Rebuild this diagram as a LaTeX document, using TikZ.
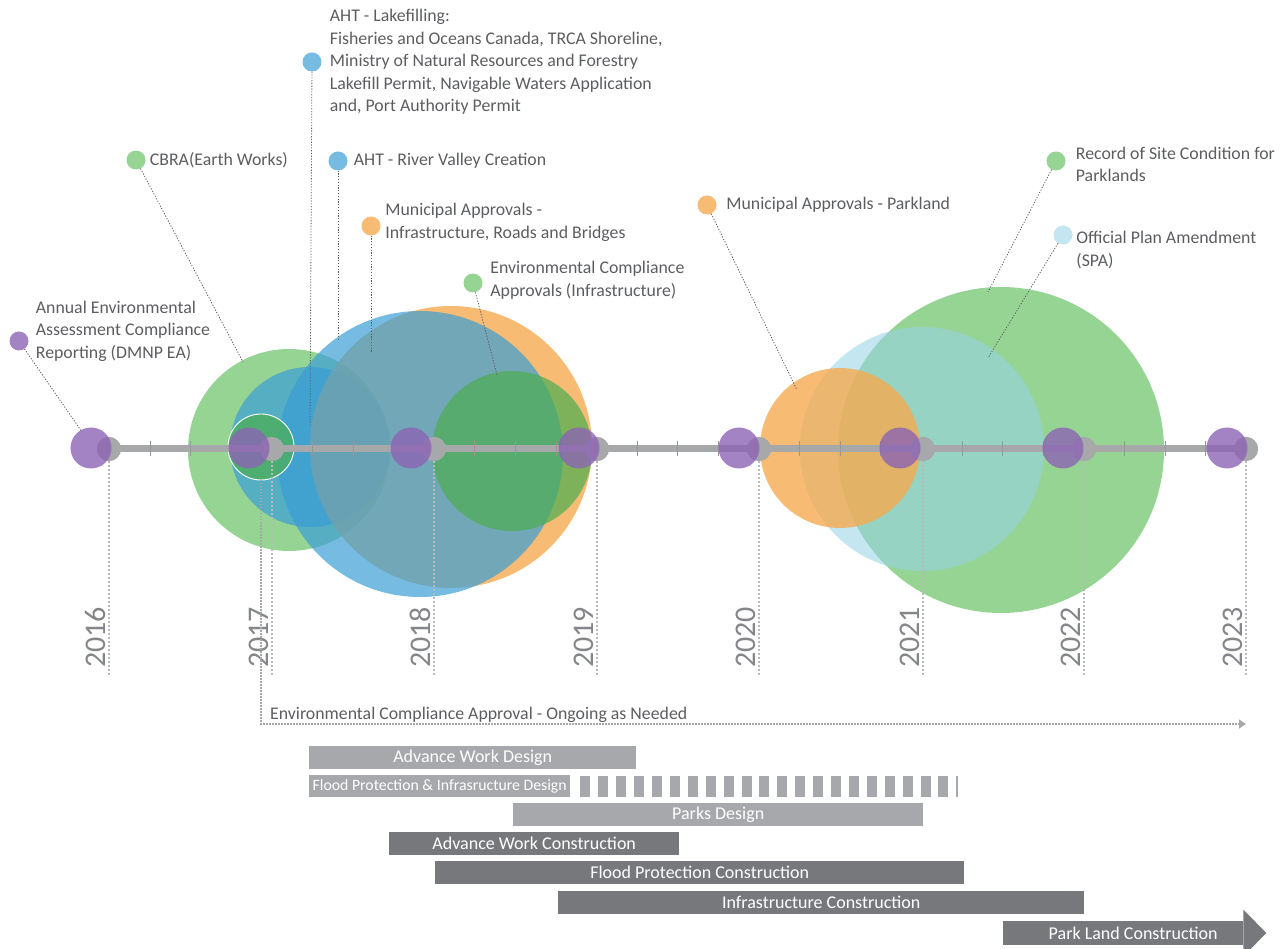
\documentclass[tikz,border=0pt]{standalone}
\usepackage{fontspec}
\setmainfont{Carlito}
\usetikzlibrary{arrows.meta, positioning}

\definecolor{inkgray}{RGB}{92,93,96}
\definecolor{axisgray}{RGB}{167,168,170}
\definecolor{tickgray}{RGB}{150,151,153}
\definecolor{dotline}{RGB}{185,186,188}
\definecolor{designgray}{RGB}{167,168,171}
\definecolor{buildgray}{RGB}{119,120,124}
\definecolor{softgreen}{RGB}{150,212,148}
\definecolor{deepgreen}{RGB}{76,175,80}
\definecolor{skyblue}{RGB}{58,158,213}
\definecolor{paleblue}{RGB}{150,211,229}
\definecolor{amber}{RGB}{245,170,80}
\definecolor{plum}{RGB}{140,100,180}

\begin{document}
\begin{tikzpicture}[
    x=1pt, y=-1pt,
    bubble/.style={
        circle,
        inner sep=0pt,
        outer sep=0pt,
        minimum size=#1
    },
    keydot/.style={
        circle,
        inner sep=0pt,
        minimum size=19pt
    },
    note/.style={
        inner sep=0pt,
        align=left,
        text=inkgray,
        font=\fontsize{17.8}{22.5}\selectfont
    },
    leader/.style={
        draw=inkgray,
        line width=0.8pt,
        dash pattern=on 1.2pt off 1.6pt
    },
    yearline/.style={
        draw=dotline,
        line width=2pt,
        dash pattern=on 2pt off 2pt
    },
    yeardot/.style={
        circle,
        fill=axisgray,
        inner sep=0pt,
        minimum size=24pt
    },
    phase/.style={
        circle,
        fill=plum,
        fill opacity=0.8,
        inner sep=0pt,
        minimum size=41pt
    },
    yeartext/.style={
        rotate=90,
        anchor=south west,
        inner sep=0pt,
        text=buildgray!90,
        font=\fontsize{30}{30}\selectfont
    },
    task/.style={
        rectangle,
        inner sep=0pt,
        anchor=west,
        minimum height=23pt,
        text=white,
        font=\fontsize{18}{20}\selectfont
    },
    ongoing/.style={
        draw=axisgray,
        line width=1.2pt,
        dash pattern=on 1.5pt off 1.5pt
    }
]

\useasboundingbox (0,0) rectangle (1286,949);

% Approval bubbles, 2016-2019
\node[bubble=202pt, fill=softgreen] (cbra) at (289,450) {};
\node[bubble=160pt, fill=skyblue, fill opacity=0.7] (lakefill) at (310,447) {};
\node[bubble=282pt, fill=amber, fill opacity=0.8] (muniroads) at (451,447) {};
\node[bubble=286pt, fill=skyblue, fill opacity=0.7] (rivervalley) at (420,454) {};
\node[bubble=160pt, fill=deepgreen, fill opacity=0.7] (ecainfra) at (512,451) {};
\node[bubble=66pt, fill=deepgreen, fill opacity=0.7, draw=white, line width=0.9pt] (ring2017) at (261,447) {};

% Approval bubbles, 2020-2022
\node[bubble=326pt, fill=softgreen] (siterecord) at (1001,450) {};
\node[bubble=244pt, fill=paleblue, fill opacity=0.57] (planamend) at (922,449) {};
\node[bubble=160pt, fill=amber, fill opacity=0.8] (parkland) at (840,448) {};

% Year markers
\node[yeardot] (y2016) at (109,449) {};
\node[yeardot] (y2017) at (272,449) {};
\node[yeardot] (y2018) at (434,449) {};
\node[yeardot] (y2019) at (597,449) {};
\node[yeardot] (y2020) at (759,449) {};
\node[yeardot] (y2021) at (923,449) {};
\node[yeardot] (y2022) at (1084,449) {};
\node[yeardot] (y2023) at (1246,449) {};

% Time axis with quarter ticks
\draw[axisgray, line width=7pt] (y2016.center) -- (y2023.center);
\draw[tickgray, line width=15pt, dash pattern=on 1pt off 39.6pt] (y2016.center) -- (y2023.center);
\node[yeardot] at (y2016) {};
\node[yeardot] at (y2017) {};
\node[yeardot] at (y2018) {};
\node[yeardot] at (y2019) {};
\node[yeardot] at (y2020) {};
\node[yeardot] at (y2021) {};
\node[yeardot] at (y2022) {};
\node[yeardot] at (y2023) {};

% Reporting dots
\node[phase] (p2016) at (91,448) {};
\node[phase] (p2017) at (249,448) {};
\node[phase] (p2018) at (411,448) {};
\node[phase] (p2019) at (579,448) {};
\node[phase] (p2020) at (739,448) {};
\node[phase] (p2021) at (900,448) {};
\node[phase] (p2022) at (1063,448) {};
\node[phase] (p2023) at (1227,448) {};

% Year lines and labels
\coordinate (yrfoot) at (0,676);
\draw[yearline] (y2016) -- (y2016 |- yrfoot);
\draw[yearline] (y2017) -- (y2017 |- yrfoot);
\draw[yearline] (y2018) -- (y2018 |- yrfoot);
\draw[yearline] (y2019) -- (y2019 |- yrfoot);
\draw[yearline] (y2020) -- (y2020 |- yrfoot);
\draw[yearline] (y2021) -- (y2021 |- yrfoot);
\draw[yearline] (y2022) -- (y2022 |- yrfoot);
\draw[yearline] (y2023) -- (y2023 |- yrfoot);
\node[yeartext] (t2016) at (106,668) {2016};
\node[yeartext] (t2017) at (269,668) {2017};
\node[yeartext] (t2018) at (431,668) {2018};
\node[yeartext] (t2019) at (594,668) {2019};
\node[yeartext] (t2020) at (756,668) {2020};
\node[yeartext] (t2021) at (920,668) {2021};
\node[yeartext] (t2022) at (1081,668) {2022};
\node[yeartext] (t2023) at (1243,668) {2023};

% Callout dots
\node[keydot, fill=plum, fill opacity=0.8] (dAnnual) at (19,341) {};
\node[keydot, fill=softgreen] (dCbra) at (136,160) {};
\node[keydot, fill=skyblue, fill opacity=0.7] (dLakefill) at (312,62) {};
\node[keydot, fill=skyblue, fill opacity=0.7] (dRiver) at (338,161) {};
\node[keydot, fill=amber, fill opacity=0.8] (dRoads) at (371,226) {};
\node[keydot, fill=softgreen] (dEca) at (473,283) {};
\node[keydot, fill=amber, fill opacity=0.8] (dParkland) at (707,205) {};
\node[keydot, fill=softgreen] (dRecord) at (1056,161) {};
\node[keydot, fill=paleblue, fill opacity=0.57] (dPlan) at (1063,235) {};

% Callout texts
\node[note, right=7pt of dAnnual, yshift=10pt] (nAnnual) {Annual Environmental\\Assessment Compliance\\Reporting (DMNP EA)};
\node[note, right=4pt of dCbra] (nCbra) {CBRA(Earth Works)};
\node[note, right=8pt of dLakefill] (nLakefill) {AHT - Lakefilling:\\Fisheries and Oceans Canada, TRCA Shoreline,\\Ministry of Natural Resources and Forestry\\Lakefill Permit, Navigable Waters Application\\and, Port Authority Permit};
\node[note, right=6pt of dRiver] (nRiver) {AHT - River Valley Creation};
\node[note, right=4.5pt of dRoads, yshift=3.5pt] (nRoads) {Municipal Approvals -\\Infrastructure, Roads and Bridges};
\node[note, right=7.5pt of dEca, yshift=2.5pt] (nEca) {Environmental Compliance\\Approvals (Infrastructure)};
\node[note, right=9.5pt of dParkland] (nParkland) {Municipal Approvals - Parkland};
\node[note, right=10pt of dRecord, yshift=-3.5pt] (nRecord) {Record of Site Condition for\\Parklands};
\node[note, right=3.5pt of dPlan, yshift=-15pt] (nPlan) {Official Plan Amendment\\(SPA)};

% Leader lines into the bubbles
\coordinate (eAnnual) at (82,432);
\coordinate (eCbra) at (243,362);
\coordinate (eLakefill) at (310,425);
\coordinate (eRiver) at (338,340);
\coordinate (eRoads) at (371,352);
\coordinate (eEca) at (497,375);
\coordinate (eParkland) at (797,390);
\coordinate (eRecord) at (988,292);
\coordinate (ePlan) at (988,358);
\draw[leader] (dAnnual) -- (eAnnual);
\draw[leader] (dCbra) -- (eCbra);
\draw[leader] (dLakefill) -- (eLakefill);
\draw[leader] (dRiver) -- (eRiver);
\draw[leader] (dRoads) -- (eRoads);
\draw[leader] (dEca) -- (eEca);
\draw[leader] (dParkland) -- (eParkland);
\draw[leader] (dRecord) -- (eRecord);
\draw[leader] (dPlan) -- (ePlan);

% Ongoing approvals
\coordinate (ongoingEnd) at (1246,724);
\draw[ongoing, -{Triangle[width=9pt, length=7pt]}] (ring2017.south) |- (ongoingEnd);
\node[note, anchor=base west] (nOngoing) at (270,719) {Environmental Compliance Approval - Ongoing as Needed};

% Design and construction phases
\node[task, fill=designgray, minimum width=327pt] (advdesign) at (309,757.5) {Advance Work Design};
\node[task, fill=designgray, minimum width=261pt, minimum height=22pt, font=\fontsize{15.8}{17}\selectfont] (flooddesign) at (309,786) {Flood Protection \& Infrasructure Design};
\coordinate (floodtbd) at (958,786);
\draw[designgray, line width=21pt, dash pattern=on 10pt off 7.9pt] ([xshift=10pt]flooddesign.east) -- (floodtbd);
\node[task, fill=designgray, minimum width=410pt] (parksdesign) at (513,814.5) {Parks Design};
\node[task, fill=buildgray, minimum width=290pt] (advbuild) at (389,843.5) {Advance Work Construction};
\node[task, fill=buildgray, minimum width=529pt] (floodbuild) at (435,872.5) {Flood Protection Construction};
\node[task, fill=buildgray, minimum width=526pt] (infrabuild) at (558,902.5) {Infrastructure Construction};
\node[task, fill=buildgray, minimum width=240pt, minimum height=24pt] (parkbuild) at (1003,933) {\hspace*{20pt}Park Land Construction};
\fill[buildgray] ([yshift=11pt]parkbuild.north east) -- ([xshift=23pt]parkbuild.east) -- ([yshift=-11pt]parkbuild.south east) -- cycle;

\end{tikzpicture}
\end{document}
